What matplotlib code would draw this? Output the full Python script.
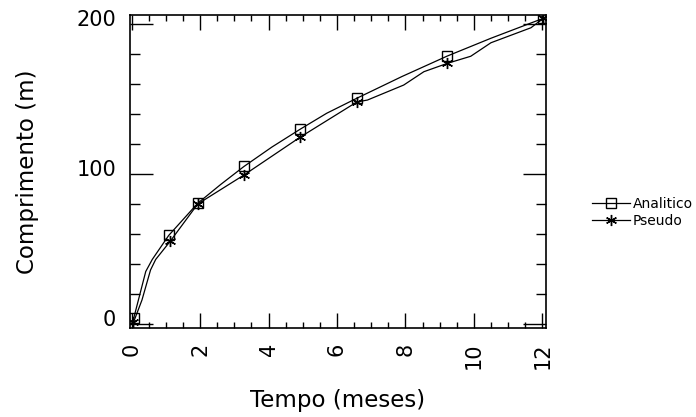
import matplotlib
matplotlib.use("Agg")
import matplotlib.pyplot as plt
import matplotlib.transforms as mtransforms
from matplotlib.ticker import MultipleLocator

plt.rcParams["font.family"] = "DejaVu Sans"

# values
t_analitico = [0.06, 0.41, 0.6, 1.08, 1.93, 2.6, 3.28, 4.1, 4.92, 5.7, 6.58, 7.9, 9.23, 10.5, 12.03]
y_analitico = [4, 35, 43, 59, 80.5, 93, 105, 118, 129.8, 140.5, 150.5, 165, 178.7, 190.5, 203.8]
mark_analitico = [0, 3, 4, 6, 8, 10, 12, 14]

t_pseudo = [0.05, 0.3, 0.55, 0.7, 1.12, 1.93, 3.28, 4.92, 6.58, 6.89, 7.95, 8.54, 9.23, 9.91, 10.5, 11.67, 12.03]
y_pseudo = [1, 16, 36, 43, 55, 80, 99.3, 124.5, 148, 149.3, 159.3, 168.2, 173.8, 178.5, 187.5, 197.5, 203.8]
mark_pseudo = [0, 4, 5, 6, 7, 8, 12, 16]

x_ticks = [0, 2, 4, 6, 8, 10, 12]
y_ticks = [0, 100, 200]

fig = plt.figure(figsize=(6.96, 4.17), dpi=100)
ax = fig.add_axes([0.1868, 0.2141, 0.784 - 0.1868, 0.964 - 0.2141])

ax.plot(t_analitico, y_analitico, color="black", lw=0.9, marker="s", ms=7,
        mfc="none", mec="black", mew=1.0, markevery=mark_analitico, label="Analitico")
ax.plot(t_pseudo, y_pseudo, color="black", lw=0.9, marker=(6, 2, 0), ms=8,
        mec="black", mew=1.0, markevery=mark_pseudo, label="Pseudo")

ax.set_xlim(-0.05, 12.1)
ax.set_ylim(-2.5, 206)
ax.set_xticks(x_ticks)
ax.set_yticks(y_ticks)
ax.xaxis.set_minor_locator(MultipleLocator(0.5))
ax.yaxis.set_minor_locator(MultipleLocator(20))

ax.tick_params(axis="x", which="major", direction="in", length=10.5, width=1,
               top=True, labelsize=15, pad=11, labelrotation=90)
ax.tick_params(axis="x", which="minor", direction="in", length=4.5, width=1, top=True)
ax.tick_params(axis="y", which="major", direction="in", length=16.5, width=1,
               right=True, labelsize=15, pad=10)
ax.tick_params(axis="y", which="minor", direction="in", length=7, width=1, right=True)

# y tick labels sit a little above their ticks
offset = mtransforms.ScaledTranslation(0, 4.5 / 72, fig.dpi_scale_trans)
for lab in ax.get_yticklabels():
    lab.set_transform(lab.get_transform() + offset)

for s in ax.spines.values():
    s.set_linewidth(1.2)

ax.set_xlabel("Tempo (meses)", fontsize=16.5, labelpad=14)
ax.set_ylabel("Comprimento (m)", fontsize=16.5, labelpad=27)

ax.legend(loc="center left", bbox_to_anchor=(0.842, 0.49), bbox_transform=fig.transFigure,
          frameon=False, fontsize=10, handlelength=2.8, handletextpad=0.15,
          labelspacing=0.2, borderaxespad=0)

fig.savefig("out.png", dpi=100)
